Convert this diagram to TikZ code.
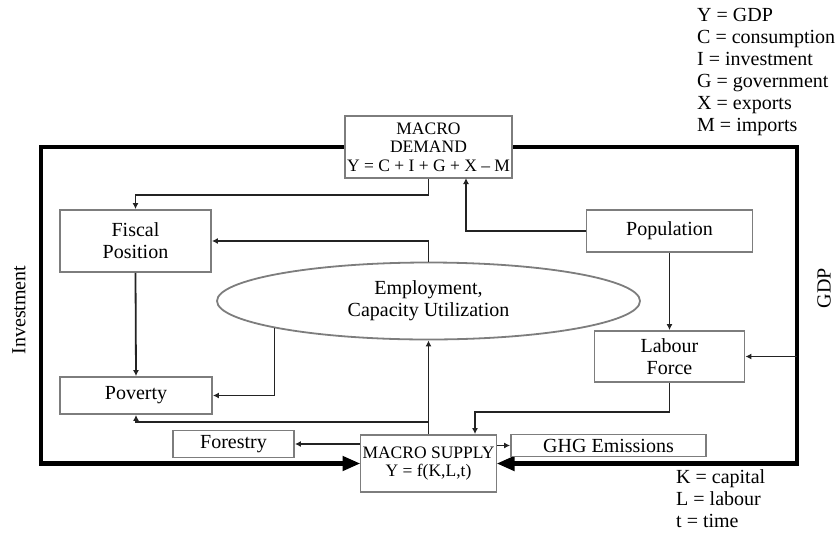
\documentclass[tikz,border=0pt]{standalone}
\usepackage{fontspec}
\setmainfont{Liberation Serif}
\usetikzlibrary{arrows.meta,shapes.geometric,calc}
\definecolor{boxgray}{RGB}{125,125,125}
\definecolor{linedark}{RGB}{35,35,35}
\begin{document}
\begin{tikzpicture}[x=1pt,y=-1pt,
  box/.style={draw=boxgray, line width=1.8pt, fill=white, inner sep=0pt,
    align=center, font=\fontsize{20}{22}\selectfont},
  macrobox/.style={box, font=\fontsize{17.5}{18.5}\selectfont},
  arr/.style={draw=linedark, line width=1.8pt, -{Latex[length=6pt,width=6pt]}},
  frame/.style={draw=black, line width=4.5pt, -{Triangle[length=18pt,width=14pt]}},
  legend/.style={align=left, inner sep=0pt, font=\fontsize{20}{22}\selectfont}
]
\useasboundingbox (0,0) rectangle (840,536);

% corners of the heavy outer loop
\coordinate (fTL) at (41,147);
\coordinate (fBL) at (41,463.5);
\coordinate (fTR) at (797,147);
\coordinate (fBR) at (797,463.5);

% heavy loop: demand -> investment -> supply, demand -> GDP -> supply
\draw[frame] (428.5,147) -- (fTL) -- (fBL) -- (360.5,463.5);
\draw[frame] (428.5,147) -- (fTR) -- (fBR) -- (496.5,463.5);

% boxes
\node[macrobox, minimum width=167pt, minimum height=62pt] (demand) at (428.5,147)
  {MACRO\\DEMAND\\Y = C + I + G + X – M};
\node[box, minimum width=151pt, minimum height=62pt] (fiscal) at (135.5,241)
  {Fiscal\\Position};
\node[box, minimum width=152pt, minimum height=37pt] (poverty) at (136,395.5)
  {Poverty};
\node[box, minimum width=166pt, minimum height=42pt] (population) at (669.5,231)
  {Population};
\node[box, minimum width=150pt, minimum height=51pt] (labour) at (669.5,356.5)
  {Labour\\Force};
\node[box, ellipse, minimum width=423pt, minimum height=77pt] (ell) at (428.5,301)
  {Employment,\\Capacity Utilization};
\node[macrobox, minimum width=136pt, minimum height=57pt] (supply) at (428.5,463.5)
  {MACRO SUPPLY\\Y = f(K,L,t)};
\node[box, minimum width=121pt, minimum height=27pt] (forestry) at (233.5,444)
  {Forestry};
\node[box, minimum width=195pt, minimum height=22pt] (ghg) at (608.5,445.5)
  {GHG Emissions};

% helper points for bends
\coordinate (popIn) at (466,178);
\coordinate (labBend) at (475,412);

% connectors
\draw[arr] (demand.south) -- ++(0,16) -| (fiscal.north);
\draw[arr] (ell.north) |- (fiscal.east);
\draw[arr] (fiscal.south) -- (poverty.north);
\draw[arr] (ell.190.3) |- (poverty.east);
\draw[arr] (supply.north) -- (ell.south);
\draw[arr] (supply.north) -- ++(0,-12) -| (poverty.south);
\draw[arr] (supply.west |- forestry.east) -- (forestry.east);
\draw[arr] (supply.east |- ghg.west) -- (ghg.west);
\draw[arr] (labour.south) |- (labBend) -- (labBend |- supply.north);
\draw[arr] (population.west) -| (popIn);
\draw[arr] (population.south) -- (labour.north);
\draw[arr] (fTR |- labour.east) -- (labour.east);

% side labels
\node[legend, rotate=90] (inv) at (19,310) {Investment};
\node[legend, rotate=90] (gdp) at (824,288) {GDP};

% symbol keys (anchored at the baseline of their last line)
\node[legend, anchor=base west] (keyA) at (697,131)
  {Y = GDP\\C = consumption\\I = investment\\G = government\\X = exports\\M = imports};
\node[legend, anchor=base west] (keyB) at (676,527)
  {K = capital\\L = labour\\t = time};
\end{tikzpicture}
\end{document}
